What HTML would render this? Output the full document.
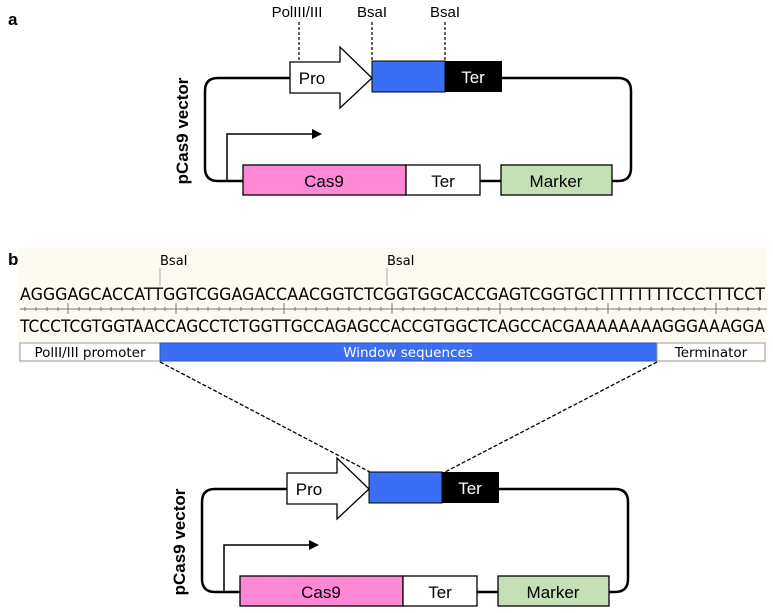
<!DOCTYPE html>
<html><head><meta charset="utf-8"><style>
html,body{margin:0;padding:0;background:#fff}
svg{display:block}
.a{font-family:"Liberation Sans",Arial,sans-serif}
.m{font-family:"DejaVu Sans","Liberation Sans",sans-serif}
</style></head><body>
<svg width="773" height="613" viewBox="0 0 773 613" xmlns="http://www.w3.org/2000/svg">
<defs>
<g id="vec">
  <path d="M290,78 H218 Q205,78 205,91 V168 Q205,181 218,181 H243" fill="none" stroke="#000" stroke-width="2.5"/>
  <path d="M502,78 H618 Q631,78 631,91 V168 Q631,181 618,181 H612" fill="none" stroke="#000" stroke-width="2.5"/>
  <line x1="480" y1="181" x2="501" y2="181" stroke="#000" stroke-width="2.5"/>
  <polygon points="290,62 340,62 340,47 372,78 340,108 340,93 290,93" fill="#fff" stroke="#000" stroke-width="1.3"/>
  <text x="312" y="84" class="a" font-size="17" text-anchor="middle">Pro</text>
  <rect x="372" y="61" width="73" height="31" fill="#3a6ff5" stroke="#000" stroke-width="1"/>
  <rect x="445" y="61" width="57" height="31" fill="#000"/>
  <text x="473" y="83" class="a" font-size="17" fill="#fff" text-anchor="middle">Ter</text>
  <rect x="243" y="165" width="163" height="30" fill="#ff88d6" stroke="#000" stroke-width="1.3"/>
  <text x="324" y="187" class="a" font-size="17" text-anchor="middle">Cas9</text>
  <rect x="406" y="165" width="74" height="30" fill="#fff" stroke="#000" stroke-width="1.3"/>
  <text x="443" y="187" class="a" font-size="17" text-anchor="middle">Ter</text>
  <rect x="501" y="165" width="111" height="30" fill="#c5e0b4" stroke="#000" stroke-width="1.3"/>
  <text x="556" y="187" class="a" font-size="17" text-anchor="middle">Marker</text>
  <path d="M227,181 V134 H314" fill="none" stroke="#000" stroke-width="1.5"/>
  <polygon points="322,134 312,129 312,139" fill="#000"/>
  <text transform="translate(188,131) rotate(-90)" class="a" font-size="17" font-weight="bold" text-anchor="middle">pCas9 vector</text>
</g>
</defs>

<text x="8" y="25" class="a" font-size="17" font-weight="bold">a</text>
<use href="#vec"/>
<text x="297" y="17" class="a" font-size="15" text-anchor="middle">PolIII/III</text>
<text x="372" y="17" class="a" font-size="15" text-anchor="middle">BsaI</text>
<text x="445" y="17" class="a" font-size="15" text-anchor="middle">BsaI</text>
<g stroke="#000" stroke-width="1.2" stroke-dasharray="3,2">
  <line x1="299" y1="22" x2="299" y2="60"/>
  <line x1="372" y1="22" x2="372" y2="60"/>
  <line x1="445" y1="22" x2="445" y2="60"/>
</g>

<text x="8" y="265" class="a" font-size="17" font-weight="bold">b</text>
<rect x="18" y="248" width="749" height="116" fill="#fdfaf2"/>
<line x1="160" y1="268" x2="160" y2="286" stroke="#aaa" stroke-width="1"/>
<line x1="387" y1="268" x2="387" y2="286" stroke="#aaa" stroke-width="1"/>
<text x="160" y="265" class="m" font-size="13">BsaI</text>
<text x="387" y="265" class="m" font-size="13">BsaI</text>
<text x="20" y="300" class="m" font-size="17" textLength="745" lengthAdjust="spacingAndGlyphs">AGGGAGCACCATTGGTCGGAGACCAACGGTCTCGGTGGCACCGAGTCGGTGCTTTTTTTTCCCTTTCCT</text>
<line x1="20" y1="309" x2="767" y2="309" stroke="#777" stroke-width="1"/>
<path stroke="#777" stroke-width="1" d="M25,307v4M36,307v4M47,307v4M58,307v4M79,307v4M90,307v4M101,307v4M111,307v4M122,307v4M133,307v4M144,307v4M155,307v4M165,307v4M187,307v4M198,307v4M208,307v4M219,307v4M230,307v4M241,307v4M252,307v4M262,307v4M273,307v4M295,307v4M306,307v4M316,307v4M327,307v4M338,307v4M349,307v4M360,307v4M370,307v4M381,307v4M403,307v4M414,307v4M424,307v4M435,307v4M446,307v4M457,307v4M468,307v4M478,307v4M489,307v4M511,307v4M522,307v4M532,307v4M543,307v4M554,307v4M565,307v4M576,307v4M586,307v4M597,307v4M619,307v4M630,307v4M640,307v4M651,307v4M662,307v4M673,307v4M684,307v4M694,307v4M705,307v4M727,307v4M738,307v4M748,307v4M759,307v4M68,303v11M176,303v11M284,303v11M392,303v11M500,303v11M608,303v11M716,303v11"/>
<text x="20" y="332" class="m" font-size="17" textLength="745" lengthAdjust="spacingAndGlyphs">TCCCTCGTGGTAACCAGCCTCTGGTTGCCAGAGCCACCGTGGCTCAGCCACGAAAAAAAAGGGAAAGGA</text>
<rect x="20" y="343" width="140" height="18" fill="#fff" stroke="#999" stroke-width="1"/>
<text x="90" y="357" class="m" font-size="13.5" text-anchor="middle">PolII/III promoter</text>
<rect x="160" y="343" width="497" height="18" fill="#3a6ff5" stroke="#2a55c0" stroke-width="1"/>
<text x="408" y="357" class="m" font-size="13.5" fill="#fff" text-anchor="middle">Window sequences</text>
<rect x="657" y="343" width="108" height="18" fill="#fff" stroke="#999" stroke-width="1"/>
<text x="711" y="357" class="m" font-size="13.5" text-anchor="middle">Terminator</text>

<g stroke="#000" stroke-width="1.3" stroke-dasharray="4,2">
  <line x1="160" y1="362" x2="370" y2="472"/>
  <line x1="657" y1="362" x2="445" y2="472"/>
</g>
<use href="#vec" transform="translate(-3,411)"/>
</svg>
</body></html>
